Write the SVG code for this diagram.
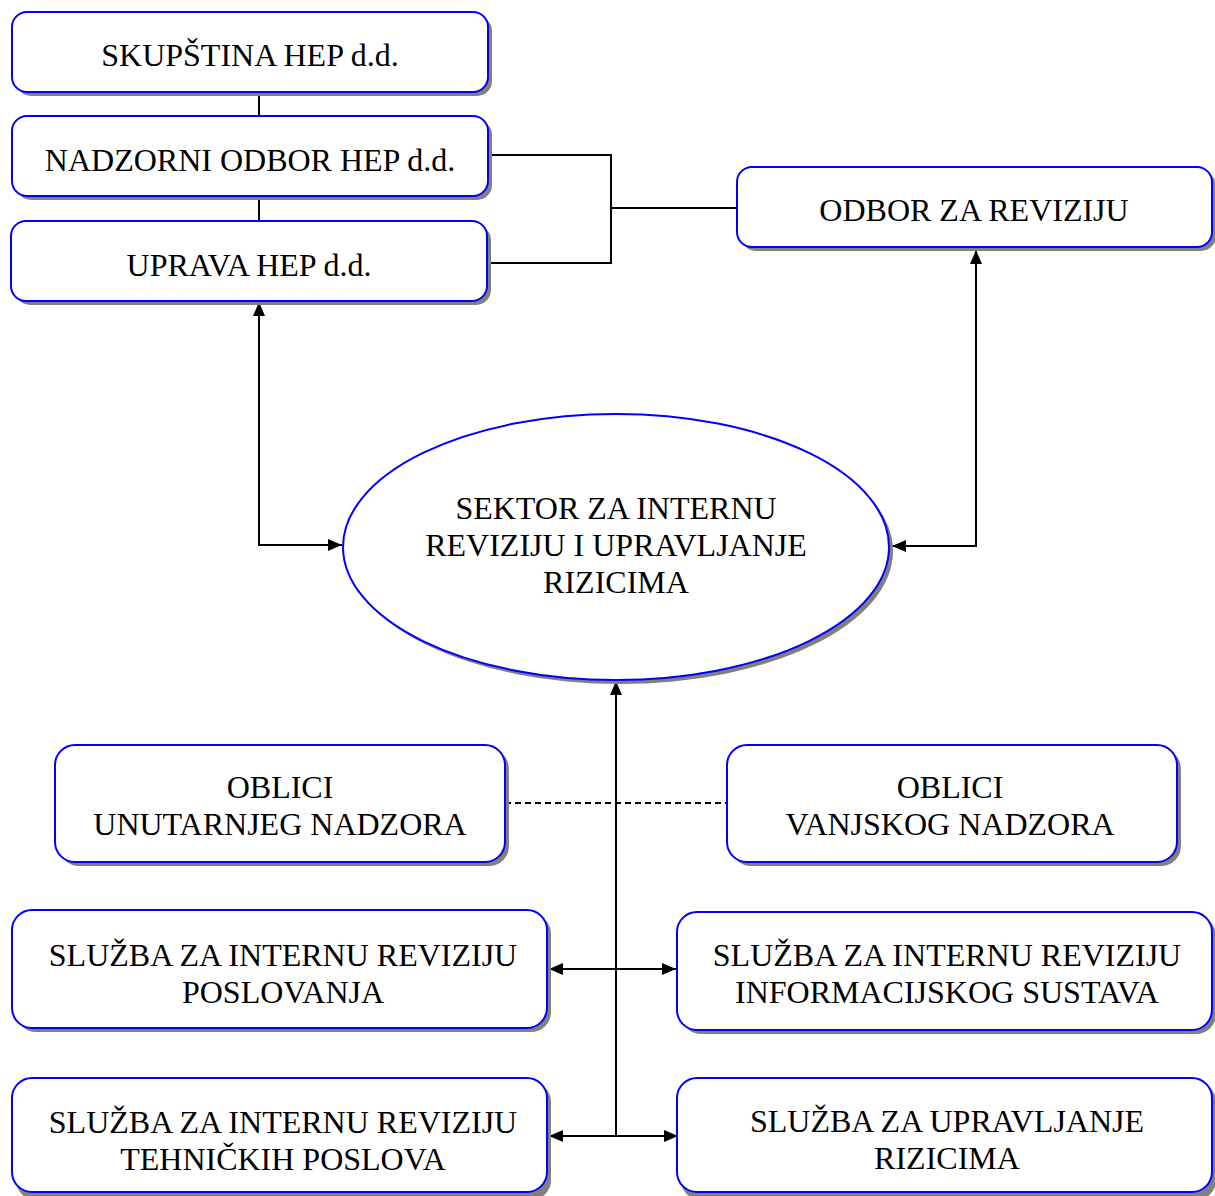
<svg xmlns="http://www.w3.org/2000/svg" width="1215" height="1196" viewBox="0 0 1215 1196">
<defs>
<marker id="ah" viewBox="0 0 14 12" refX="14" refY="6" markerWidth="14" markerHeight="12" markerUnits="userSpaceOnUse" orient="auto-start-reverse">
<path d="M0,0 L14,6 L0,12 Z" fill="#000"/>
</marker>
</defs>
<style>
.box{fill:#fff;stroke:#0000ff;stroke-width:2}
.sh{fill:#808080;stroke:none}
.t{font-family:"Liberation Serif","Times New Roman",serif;font-size:32px;fill:#000;text-anchor:middle}
.ln{fill:none;stroke:#000;stroke-width:2}
.dash{fill:none;stroke:#000;stroke-width:2;stroke-dasharray:6,4}
</style>
<rect width="1215" height="1196" fill="#fff"/>
<g id="connectors">
<line class="ln" x1="259" y1="92" x2="259" y2="116"/>
<line class="ln" x1="259" y1="196" x2="259" y2="221"/>
<polyline class="ln" points="488,155 611,155 611,263 487,263"/>
<line class="ln" x1="611" y1="208" x2="737" y2="208"/>
<polyline class="ln" points="259,302 259,545 342,545" marker-start="url(#ah)" marker-end="url(#ah)"/>
<polyline class="ln" points="976,250 976,546 892,546" marker-start="url(#ah)" marker-end="url(#ah)"/>
<line class="ln" x1="616" y1="1136" x2="616" y2="681" marker-end="url(#ah)"/>
<line class="dash" x1="505" y1="803" x2="727" y2="803"/>
<line class="ln" x1="549" y1="969" x2="676" y2="969" marker-start="url(#ah)" marker-end="url(#ah)"/>
<line class="ln" x1="549" y1="1136" x2="678" y2="1136" marker-start="url(#ah)" marker-end="url(#ah)"/>
</g>
<g id="skupstina">
<rect class="sh" x="16" y="16" width="476" height="80" rx="15"/>
<rect class="box" x="12" y="12" width="476" height="80" rx="15"/>
<text class="t" x="250" y="66">SKUPŠTINA HEP d.d.</text>
</g>
<g id="nadzorni">
<rect class="sh" x="16" y="120" width="476" height="80" rx="15"/>
<rect class="box" x="12" y="116" width="476" height="80" rx="15"/>
<text class="t" x="250" y="171">NADZORNI ODBOR HEP d.d.</text>
</g>
<g id="uprava">
<rect class="sh" x="15" y="225" width="476" height="80" rx="15"/>
<rect class="box" x="11" y="221" width="476" height="80" rx="15"/>
<text class="t" x="249" y="276">UPRAVA HEP d.d.</text>
</g>
<g id="odbor">
<rect class="sh" x="741" y="171" width="475" height="80" rx="15"/>
<rect class="box" x="737" y="167" width="475" height="80" rx="15"/>
<text class="t" x="974" y="221">ODBOR ZA REVIZIJU</text>
</g>
<g id="sektor">
<ellipse class="sh" cx="620" cy="551" rx="273" ry="133"/>
<ellipse class="box" cx="616" cy="547" rx="273" ry="133"/>
<text class="t" x="616" y="519">SEKTOR ZA INTERNU</text>
<text class="t" x="616" y="556">REVIZIJU I UPRAVLJANJE</text>
<text class="t" x="616" y="593">RIZICIMA</text>
</g>
<g id="unutarnji">
<rect class="sh" x="59" y="749" width="450" height="117" rx="20"/>
<rect class="box" x="55" y="745" width="450" height="117" rx="20"/>
<text class="t" x="280" y="798">OBLICI</text>
<text class="t" x="280" y="835">UNUTARNJEG NADZORA</text>
</g>
<g id="vanjski">
<rect class="sh" x="731" y="749" width="450" height="117" rx="20"/>
<rect class="box" x="727" y="745" width="450" height="117" rx="20"/>
<text class="t" x="950" y="798">OBLICI</text>
<text class="t" x="950" y="835">VANJSKOG NADZORA</text>
</g>
<g id="poslovanja">
<rect class="sh" x="16" y="914" width="535" height="118" rx="20"/>
<rect class="box" x="12" y="910" width="535" height="118" rx="20"/>
<text class="t" x="283" y="966">SLUŽBA ZA INTERNU REVIZIJU</text>
<text class="t" x="283" y="1003">POSLOVANJA</text>
</g>
<g id="informacijski">
<rect class="sh" x="681" y="916" width="535" height="118" rx="20"/>
<rect class="box" x="677" y="912" width="535" height="118" rx="20"/>
<text class="t" x="947" y="966">SLUŽBA ZA INTERNU REVIZIJU</text>
<text class="t" x="947" y="1003">INFORMACIJSKOG SUSTAVA</text>
</g>
<g id="tehnicki">
<rect class="sh" x="16" y="1082" width="535" height="118" rx="20"/>
<rect class="box" x="12" y="1078" width="535" height="114" rx="20"/>
<text class="t" x="283" y="1133">SLUŽBA ZA INTERNU REVIZIJU</text>
<text class="t" x="283" y="1170">TEHNIČKIH POSLOVA</text>
</g>
<g id="rizici">
<rect class="sh" x="681" y="1082" width="535" height="118" rx="20"/>
<rect class="box" x="677" y="1078" width="535" height="114" rx="20"/>
<text class="t" x="947" y="1132">SLUŽBA ZA UPRAVLJANJE</text>
<text class="t" x="947" y="1169">RIZICIMA</text>
</g>
</svg>
